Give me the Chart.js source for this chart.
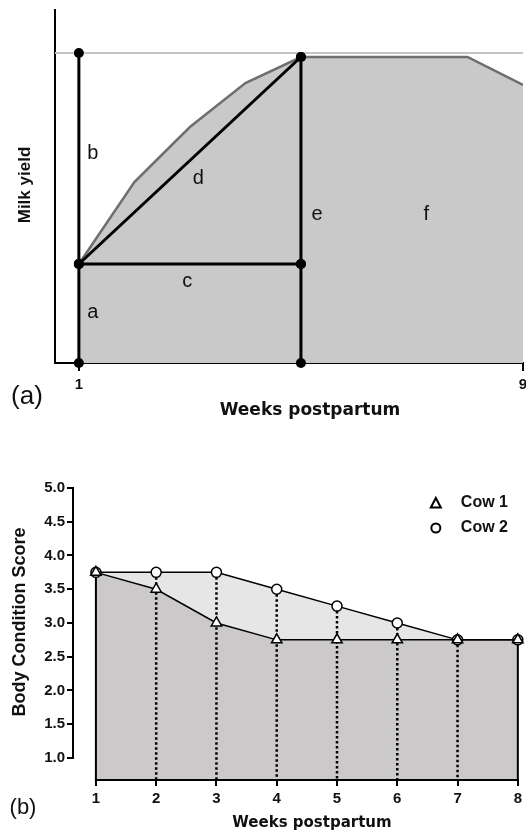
<!DOCTYPE html>
<html>
<head>
<meta charset="utf-8">
<script src="https://cdn.jsdelivr.net/npm/chart.js@4.4.1/dist/chart.umd.min.js"></script>
<style>
html, body { margin: 0; padding: 0; background: #fff; overflow: hidden; }
body { width: 526px; height: 834px; position: relative; }
#panelA { position: absolute; left: 0; top: 0; }
#panelB { position: absolute; left: 0; top: 460px; }
</style>
</head>
<body>
<canvas id="panelA" width="540" height="425"></canvas>
<canvas id="panelB" width="526" height="374"></canvas>
<script>
// (a) milk yield over the first weeks (arbitrary units)
const weeksA = [1, 2, 3, 4, 5, 6, 7, 8, 9];
const milkYield = [9.9, 18.1, 23.6, 28.0, 30.6, 30.6, 30.6, 30.6, 27.8];
const peakWeek = 5;
const peakLine = 31;
const weekTicksA = [1, 9];

// (b) body condition score per cow
const weeksB = [1, 2, 3, 4, 5, 6, 7, 8];
const cow1 = [3.75, 3.5, 3.0, 2.75, 2.75, 2.75, 2.75, 2.75];
const cow2 = [3.75, 3.75, 3.75, 3.5, 3.25, 3.0, 2.75, 2.75];
const bcsTicks = [1.0, 1.5, 2.0, 2.5, 3.0, 3.5, 4.0, 4.5, 5.0];

const SANS = "'Liberation Sans', Arial, sans-serif";
const WIDE = "'DejaVu Sans', sans-serif";

function points(xs, ys) {
    return xs.map(function(x, i) { return { x: x, y: ys[i] }; });
}

// plain text drawn on top of a chart, either at pixels or at data values
function textMarks(items) {
    return {
        id: 'textMarks',
        afterDraw: function(chart) {
            const ctx = chart.ctx;
            items.forEach(function(item) {
                let x = item.x, y = item.y;
                if (item.at) {
                    x = chart.scales.x.getPixelForValue(item.at[0]);
                    y = chart.scales.y.getPixelForValue(item.at[1]);
                }
                ctx.save();
                ctx.translate(x, y);
                if (item.rotate) ctx.rotate(item.rotate);
                ctx.font = item.font;
                ctx.fillStyle = '#111';
                ctx.textAlign = 'center';
                ctx.textBaseline = 'alphabetic';
                ctx.fillText(item.text, 0, 0);
                ctx.restore();
            });
        }
    };
}

// ---------- panel (a) ----------
const startYield = milkYield[0];
const firstWeek = weeksA[0];
const peakYield = milkYield[weeksA.indexOf(peakWeek)];

function segment(data) {
    return {
        data: data,
        borderColor: '#000',
        borderWidth: 3,
        pointRadius: 5,
        pointBackgroundColor: '#000',
        pointBorderWidth: 0,
        clip: false,
        order: 0
    };
}

const letterFont = '20px ' + SANS;

new Chart(document.getElementById('panelA'), {
    type: 'line',
    data: {
        datasets: [
            {
                label: 'Milk yield',
                data: points(weeksA, milkYield),
                borderColor: '#6e6e6e',
                borderWidth: 2.5,
                backgroundColor: '#c9c9c9',
                fill: 'origin',
                pointRadius: 0,
                order: 2
            },
            {
                label: 'Peak',
                data: [{ x: 0.57, y: peakLine }, { x: weeksA[weeksA.length - 1], y: peakLine }],
                borderColor: '#c4c4c4',
                borderWidth: 2,
                pointRadius: 0,
                clip: false,
                order: 3
            },
            segment([{ x: firstWeek, y: peakLine }, { x: firstWeek, y: startYield }, { x: firstWeek, y: 0 }]),
            segment([{ x: firstWeek, y: startYield }, { x: peakWeek, y: startYield }]),
            segment([{ x: firstWeek, y: startYield }, { x: peakWeek, y: peakYield }]),
            segment([{ x: peakWeek, y: peakYield }, { x: peakWeek, y: startYield }, { x: peakWeek, y: 0 }])
        ]
    },
    options: {
        responsive: false,
        animation: false,
        layout: { padding: { top: 10, right: 17, left: 0, bottom: 0 } },
        plugins: {
            legend: { display: false },
            tooltip: { enabled: false },
            filler: { drawTime: 'beforeDatasetsDraw' }
        },
        scales: {
            x: {
                type: 'linear',
                min: 0.57,
                max: 9,
                afterBuildTicks: function(scale) {
                    scale.ticks = weekTicksA.map(function(v) { return { value: v }; });
                },
                afterFit: function(scale) { scale.height = 62; },
                grid: { drawOnChartArea: false, color: '#000', lineWidth: 2, tickLength: 8 },
                border: { color: '#000', width: 2 },
                ticks: { color: '#111', font: { family: SANS, size: 15, weight: 'bold' }, padding: 5, maxRotation: 0 }
            },
            y: {
                min: 0,
                max: 35.3,
                afterFit: function(scale) { scale.width = 55; },
                grid: { display: false },
                border: { color: '#000', width: 2 },
                ticks: { display: false }
            }
        }
    },
    plugins: [textMarks([
        { text: 'Milk yield', x: 29.5, y: 185, rotate: -Math.PI / 2, font: 'bold 17px ' + SANS },
        { text: 'Weeks postpartum', x: 310, y: 415, font: 'bold 17px ' + WIDE },
        { text: '(a)', x: 27, y: 404, font: '26px ' + SANS },
        { text: 'a', at: [1.25, 4.5], font: letterFont },
        { text: 'b', at: [1.25, 20.4], font: letterFont },
        { text: 'c', at: [2.95, 7.6], font: letterFont },
        { text: 'd', at: [3.15, 17.9], font: letterFont },
        { text: 'e', at: [5.29, 14.3], font: letterFont },
        { text: 'f', at: [7.26, 14.3], font: letterFont }
    ])]
});

// ---------- panel (b) ----------
const yMinB = 0.674;

function drop(week, top, dashed) {
    return {
        data: [{ x: week, y: top }, { x: week, y: yMinB }],
        borderColor: '#000',
        borderWidth: dashed ? 2.5 : 2,
        borderDash: dashed ? [2.5, 2.5] : [],
        pointRadius: 0,
        clip: false,
        order: 1
    };
}

const drops = weeksB.map(function(w, i) {
    return drop(w, cow2[i], i > 0 && i < weeksB.length - 1);
});

// axes that stop at the first and last tick
const offsetAxes = {
    id: 'offsetAxes',
    afterDatasetsDraw: function(chart) {
        const ctx = chart.ctx;
        const area = chart.chartArea;
        const x = chart.scales.x, y = chart.scales.y;
        ctx.save();
        ctx.strokeStyle = '#000';
        ctx.lineWidth = 2;
        ctx.beginPath();
        ctx.moveTo(area.left, y.getPixelForValue(bcsTicks[bcsTicks.length - 1]) - 1);
        ctx.lineTo(area.left, y.getPixelForValue(bcsTicks[0]) + 1);
        ctx.moveTo(x.getPixelForValue(weeksB[0]) - 1, area.bottom);
        ctx.lineTo(x.getPixelForValue(weeksB[weeksB.length - 1]) + 1, area.bottom);
        ctx.stroke();
        ctx.restore();
    }
};

const cornerLegend = {
    id: 'cornerLegend',
    afterDraw: function(chart) {
        const ctx = chart.ctx;
        const area = chart.chartArea;
        chart.data.datasets.slice(0, 2).forEach(function(ds, i) {
            const cx = area.right - 82;
            const cy = area.top + 15 + i * 25;
            ctx.save();
            ctx.lineWidth = 2;
            ctx.strokeStyle = '#000';
            ctx.fillStyle = '#fff';
            ctx.beginPath();
            if (ds.pointStyle === 'triangle') {
                ctx.moveTo(cx, cy - 5);
                ctx.lineTo(cx + 5, cy + 4.5);
                ctx.lineTo(cx - 5, cy + 4.5);
                ctx.closePath();
            } else {
                ctx.arc(cx, cy, 4.5, 0, Math.PI * 2);
            }
            ctx.fill();
            ctx.stroke();
            ctx.font = 'bold 16px ' + SANS;
            ctx.fillStyle = '#111';
            ctx.textAlign = 'left';
            ctx.textBaseline = 'middle';
            ctx.fillText(ds.label, cx + 25, cy);
            ctx.restore();
        });
    }
};

new Chart(document.getElementById('panelB'), {
    type: 'line',
    data: {
        datasets: [
            {
                label: 'Cow 1',
                data: points(weeksB, cow1),
                borderColor: '#000',
                borderWidth: 1.5,
                backgroundColor: '#cbc9ca',
                fill: 'start',
                pointStyle: 'triangle',
                pointRadius: 6,
                pointBackgroundColor: '#fff',
                pointBorderColor: '#000',
                pointBorderWidth: 1.5,
                clip: false,
                order: 0
            },
            {
                label: 'Cow 2',
                data: points(weeksB, cow2),
                borderColor: '#000',
                borderWidth: 1.5,
                backgroundColor: '#e7e6e6',
                fill: '-1',
                pointStyle: 'circle',
                pointRadius: 5,
                pointBackgroundColor: '#fff',
                pointBorderColor: '#000',
                pointBorderWidth: 1.5,
                clip: false,
                order: 0
            }
        ].concat(drops)
    },
    options: {
        responsive: false,
        animation: false,
        layout: { padding: { top: 28, right: 6, left: 0, bottom: 0 } },
        plugins: {
            legend: { display: false },
            tooltip: { enabled: false },
            filler: { drawTime: 'beforeDatasetsDraw' }
        },
        scales: {
            x: {
                type: 'linear',
                min: 0.62,
                max: 8,
                afterBuildTicks: function(scale) {
                    scale.ticks = weeksB.map(function(v) { return { value: v }; });
                },
                afterFit: function(scale) { scale.height = 54; },
                grid: { drawOnChartArea: false, color: '#000', lineWidth: 2, tickLength: 6 },
                border: { display: false },
                ticks: { color: '#111', font: { family: SANS, size: 15, weight: 'bold' }, padding: 4, maxRotation: 0 }
            },
            y: {
                min: yMinB,
                max: 5.0,
                afterBuildTicks: function(scale) {
                    scale.ticks = bcsTicks.map(function(v) { return { value: v }; });
                },
                afterFit: function(scale) { scale.width = 73; },
                grid: { drawOnChartArea: false, color: '#000', lineWidth: 2, tickLength: 6 },
                border: { display: false },
                ticks: {
                    color: '#111',
                    font: { family: SANS, size: 15, weight: 'bold' },
                    padding: 2,
                    callback: function(value) { return value.toFixed(1); }
                }
            }
        }
    },
    plugins: [offsetAxes, cornerLegend, textMarks([
        { text: 'Body Condition Score', x: 25, y: 162, rotate: -Math.PI / 2, font: 'bold 18px ' + SANS },
        { text: 'Weeks postpartum', x: 312, y: 367, font: 'bold 15px ' + WIDE },
        { text: '(b)', x: 23, y: 354, font: '22px ' + SANS }
    ])]
});
</script>
</body>
</html>
